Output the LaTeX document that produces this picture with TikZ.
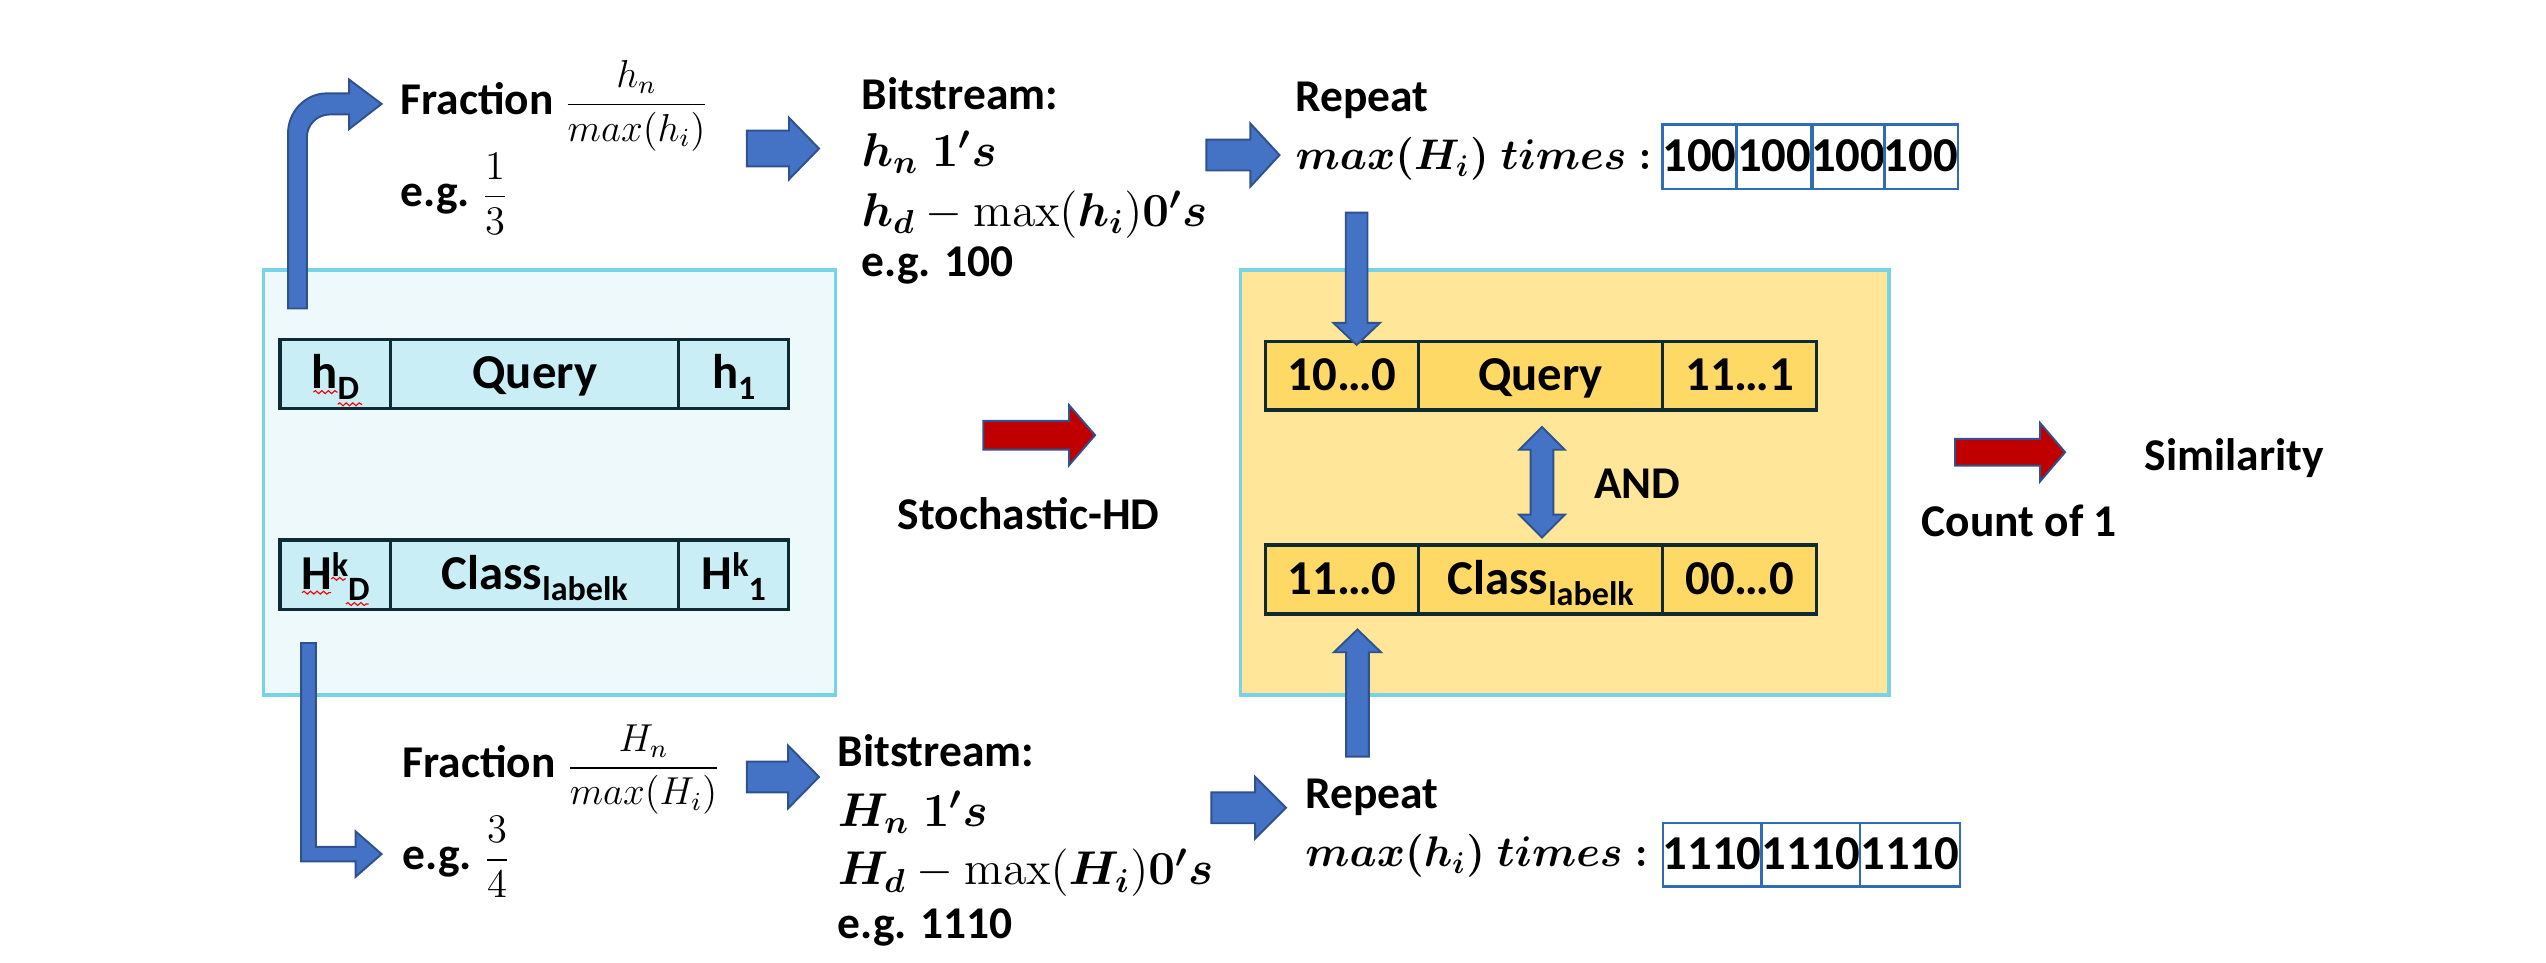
\documentclass[tikz,border=0pt]{standalone}
\usepackage{fix-cm}
\usepackage{amsmath}
\usepackage{bm}
\usepackage[no-math]{fontspec}
\setmainfont{Carlito}
\usetikzlibrary{calc,decorations.pathmorphing}
\definecolor{blkfill}{HTML}{4472C4}
\definecolor{blkedge}{HTML}{2F528F}
\definecolor{redfill}{HTML}{C00000}
\definecolor{boxedge}{HTML}{79D3E6}
\definecolor{lfill}{HTML}{EEF9FC}
\definecolor{lcell}{HTML}{C9EEF6}
\definecolor{rfill}{HTML}{FFE699}
\definecolor{rcell}{HTML}{FFD966}
\definecolor{celledge}{HTML}{0E2A33}
\definecolor{stripedge}{HTML}{2E6DB4}
\newcommand\lsub[1]{\raisebox{-3.3pt}{\fontsize{10.5}{10.5}\selectfont #1}}
\newcommand\lsup[1]{\raisebox{4pt}{\fontsize{10.5}{10.5}\selectfont #1}}
% horizontal block arrow: start, tip, shaft half, head half, head length, style
\newcommand\hblock[6]{\draw[#6] ($(#1)+(0,-#3)$) -- ($(#2)+(-#5,-#3)$) -- ($(#2)+(-#5,-#4)$) -- (#2) -- ($(#2)+(-#5,#4)$) -- ($(#2)+(-#5,#3)$) -- ($(#1)+(0,#3)$) -- cycle;}
% vertical block arrow: start, tip, shaft half, head half, signed head length, style
\newcommand\vblock[6]{\draw[#6] ($(#1)+(-#3,0)$) -- ($(#2)+(-#3,#5)$) -- ($(#2)+(-#4,#5)$) -- (#2) -- ($(#2)+(#4,#5)$) -- ($(#2)+(#3,#5)$) -- ($(#1)+(#3,0)$) -- cycle;}
% double vertical block arrow: top tip, bottom tip, shaft half, head half, head length, style
\newcommand\dblock[6]{\draw[#6] (#1) -- ($(#1)+(#4,#5)$) -- ($(#1)+(#3,#5)$) -- ($(#2)+(#3,-#5)$) -- ($(#2)+(#4,-#5)$) -- (#2) -- ($(#2)+(-#4,-#5)$) -- ($(#2)+(-#3,-#5)$) -- ($(#1)+(-#3,#5)$) -- ($(#1)+(-#4,#5)$) -- cycle;}
\begin{document}
\begin{tikzpicture}[x=0.5pt,y=-0.5pt,
  every node/.style={inner sep=0pt, outer sep=0pt, font=\fontsize{14}{17}\selectfont\bfseries},
  txt/.style={anchor=base west},
  mathline/.style={anchor=base west, font=\fontsize{14.6}{17}\selectfont\bfseries},
  bigbox/.style={draw=boxedge, line width=1pt},
  cellbase/.style={draw=celledge, line width=1pt, text height=9.3pt, text depth=0pt, font=\fontsize{15}{18}\selectfont\bfseries},
  lcellst/.style={cellbase, fill=lcell},
  rcellst/.style={cellbase, fill=rcell},
  stripcell/.style={draw=stripedge, line width=0.7pt, minimum height=20pt, text height=9.2pt, text depth=0pt, font=\fontsize{15}{18}\selectfont\bfseries},
  blue arrow/.style={fill=blkfill, draw=blkedge, line width=0.6pt, line join=miter},
  red arrow/.style={fill=redfill, draw=blkedge, line width=0.6pt, line join=miter},
  squiggle/.style={draw=red, line width=0.35pt, decorate, decoration={snake, amplitude=0.45pt, segment length=2pt}}]
\useasboundingbox (0,0) rectangle (1568,593);

% ---------- left box ----------
\node[bigbox, fill=lfill, minimum width=176.2pt, minimum height=130.85pt] (L) at (338.4,297.15) {};
\node[lcellst, minimum width=34.15pt, minimum height=21.25pt] (lq1) at (206.55,230.25) {h\lsub{D}};
\node[lcellst, minimum width=88.65pt, minimum height=21.25pt] (lq2) at (329.35,230.25) {Query};
\node[lcellst, minimum width=33.9pt, minimum height=21.25pt] (lq3) at (451.9,230.25) {h\lsub{1}};
\node[lcellst, minimum width=34.15pt, minimum height=21.35pt] (lc1) at (206.55,353.95) {H\lsup{k}\lsub{D}};
\node[lcellst, minimum width=88.65pt, minimum height=21.35pt] (lc2) at (329.35,353.95) {Class\lsub{labelk}};
\node[lcellst, minimum width=33.9pt, minimum height=21.35pt] (lc3) at (451.9,353.95) {H\lsup{k}\lsub{1}};
% spell-check marks
\draw[squiggle] (193,241.5) -- (208,241.5);
\draw[squiggle] (208,249) -- (223,249);
\draw[squiggle] (186,365) -- (204,365);
\draw[squiggle] (204,356.5) -- (213,356.5);
\draw[squiggle] (213,372) -- (227,372);

% ---------- right box ----------
\node[bigbox, fill=rfill, minimum width=199.6pt, minimum height=130.85pt] (R) at (963.8,297.15) {};
\node[rcellst, minimum width=47.1pt, minimum height=21.05pt] (rq1) at (826.6,231.45) {10…0};
\node[rcellst, minimum width=75.15pt, minimum height=21.05pt] (rq2) at (948.85,231.45) {Query};
\node[rcellst, minimum width=47.45pt, minimum height=21.05pt] (rq3) at (1071.45,231.45) {11…1};
\node[rcellst, minimum width=47.1pt, minimum height=21.25pt] (rc1) at (826.6,356.95) {11…0};
\node[rcellst, minimum width=75.15pt, minimum height=21.25pt] (rc2) at (948.85,356.95) {Class\lsub{labelk}};
\node[rcellst, minimum width=47.45pt, minimum height=21.25pt] (rc3) at (1071.45,356.95) {00…0};
\node[txt] (and) at (981.8,306.8) {AND};

% ---------- top row ----------
\node[txt] (fr1) at (246.7,70.4) {Fraction {\fontsize{12}{14}\selectfont$\dfrac{h_n}{max(h_i)}$}};
\node[txt] (eg1) at (246.7,127.3) {e.g.\hspace{3.5pt}{\fontsize{12.5}{14}\selectfont$\dfrac{1}{3}$}};
\node[txt] (bs1) at (530.7,67.7) {Bitstream:};
\node[mathline] (bs1a) at (530.7,102.7) {$\bm{h_n}\;\bm{1's}$};
\node[mathline] (bs1b) at (530.7,139.6) {$\bm{h_d} - \mathrm{max}(\bm{h_i})\bm{0's}$};
\node[txt] (bs1c) at (530.7,170.4) {e.g. 100};
\node[txt] (rp1) at (798,68.8) {Repeat};
\node[txt] (rp1a) at (798,104.7) {\fontsize{13.2}{15}\selectfont$\bm{max(H_i)}\;\bm{times}\;\bm{{:}}$};
\node[stripcell, minimum width=22.6pt] (s11) at (1046.6,96.6) {100};
\node[stripcell, minimum width=23.5pt] (s12) at (1092.7,96.6) {100};
\node[stripcell, minimum width=22.05pt] (s13) at (1138.25,96.6) {100};
\node[stripcell, minimum width=22.7pt] (s14) at (1183,96.6) {100};

% ---------- bottom row ----------
\node[txt] (fr2) at (248,479) {Fraction {\fontsize{12}{14}\selectfont$\dfrac{H_n}{max(H_i)}$}};
\node[txt] (eg2) at (248,535.8) {e.g.\hspace{3.5pt}{\fontsize{12.5}{14}\selectfont$\dfrac{3}{4}$}};
\node[txt] (bs2) at (516,472) {Bitstream:};
\node[mathline] (bs2a) at (516,509) {$\bm{H_n}\;\bm{1's}$};
\node[mathline] (bs2b) at (516,545) {$\bm{H_d} - \mathrm{max}(\bm{H_i})\bm{0's}$};
\node[txt] (bs2c) at (516,578) {e.g. 1110};
\node[txt] (rp2) at (804,497.8) {Repeat};
\node[txt] (rp2a) at (804,533.8) {\fontsize{13.2}{15}\selectfont$\bm{max(h_i)}\;\bm{times}\;\bm{{:}}$};
\node[stripcell, minimum width=30.5pt, minimum height=19.65pt, text height=9.45pt] (s21) at (1054.5,526.35) {1110};
\node[stripcell, minimum width=30.25pt, minimum height=19.65pt, text height=9.45pt] (s22) at (1115.25,526.35) {1110};
\node[stripcell, minimum width=30.75pt, minimum height=19.65pt, text height=9.45pt] (s23) at (1176.25,526.35) {1110};

% ---------- middle / right labels ----------
\node[txt] (sto) at (553,326.4) {Stochastic-HD};
\node[txt] (sim) at (1321,289.5) {Similarity};
\node[txt] (cnt) at (1183.5,330.5) {Count of 1};

% ---------- bent arrows from the left box ----------
\draw[blue arrow] (177.4,190) -- (177.4,82) .. controls (177.4,68.7) and (188.1,57.5) .. (201.4,57.5)
  -- (215,57.5) -- (215,49) -- (235,64) -- (215,79.5) -- (215,70.5) -- (203,70.5)
  .. controls (195.3,70.5) and (189,76.8) .. (189,84.5) -- (189,190) -- cycle;
\draw[blue arrow] (185.5,396) -- (185.5,530.5) -- (219,530.5) -- (219,540) -- (235,526)
  -- (219,512) -- (219,521.5) -- (194.5,521.5) -- (194.5,396) -- cycle;

% ---------- straight block arrows ----------
\coordinate (a1s) at (460,91.5);   \coordinate (a1t) at (504.4,91.5);
\coordinate (a2s) at (743,95.5);   \coordinate (a2t) at (788,95.5);
\coordinate (a3s) at (460,478.5);  \coordinate (a3t) at (504.4,478.5);
\coordinate (a4s) at (746,497.5);  \coordinate (a4t) at (792,497.5);
\hblock{a1s}{a1t}{11}{19}{18.5}{blue arrow}
\hblock{a2s}{a2t}{9.5}{19.5}{18}{blue arrow}
\hblock{a3s}{a3t}{9.5}{19.3}{19}{blue arrow}
\hblock{a4s}{a4t}{9.5}{19}{19}{blue arrow}

\coordinate (m1s) at (605.6,268);  \coordinate (m1t) at (674.4,268);
\coordinate (m2s) at (1204,278.5); \coordinate (m2t) at (1271.8,278.5);
\hblock{m1s}{m1t}{8.85}{18.5}{16}{red arrow}
\hblock{m2s}{m2t}{8.25}{18}{15.4}{red arrow}

% vertical arrows into the bars
\coordinate (dxs) at (835.5,131);
\coordinate (dxt) at ($(dxs |- rq1.north)+(0,2)$);
\vblock{dxs}{dxt}{6.7}{14.3}{-13.5}{blue arrow}
\coordinate (uxs) at (836,466);
\coordinate (uxt) at ($(uxs |- rc1.south)+(0,9.5)$);
\vblock{uxs}{uxt}{7}{14.5}{14}{blue arrow}
\coordinate (andt) at ($(rq2.south)+(0.8,10.5)$);
\coordinate (andb) at ($(rc2.north)+(0.8,-4.7)$);
\dblock{andt}{andb}{7}{14}{14}{blue arrow}
\end{tikzpicture}
\end{document}
